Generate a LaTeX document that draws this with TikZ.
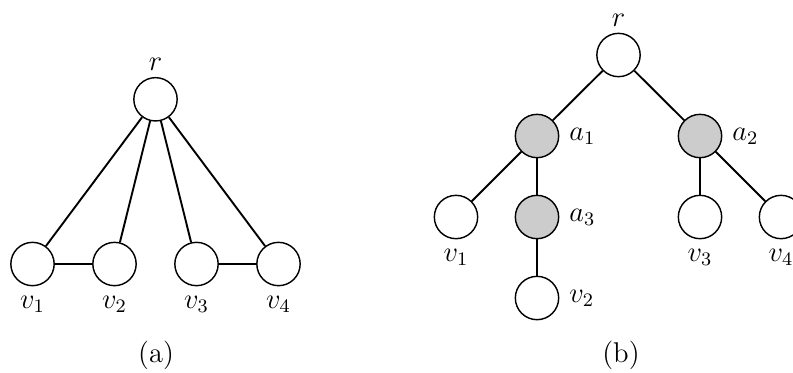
\documentclass[tikz,border=0pt]{standalone}
\begin{document}
\begin{tikzpicture}[x=0.42pt,y=-0.42pt,
  vtx/.style={circle,draw,line width=0.6pt,minimum size=18.2pt,inner sep=0pt,fill=white},
  grayvtx/.style={vtx,fill=black!20},
  edge/.style={line width=0.8pt},
  every label/.style={inner sep=4pt,font=\large},
  toplabel/.style={label={[label distance=-1.5pt]above:#1}},
  every node/.append style={font=\large}]
\useasboundingbox (0,0) rectangle (793,372);
\clip (0,0) rectangle (793,372);
% (a)
\node[vtx,toplabel=$r$] (ra) at (155.5,99.3) {};
\node[vtx,label=below:$v_1$] (av1) at (32.5,264) {};
\node[vtx,label=below:$v_2$] (av2) at (114.5,264) {};
\node[vtx,label=below:$v_3$] (av3) at (196.5,264) {};
\node[vtx,label=below:$v_4$] (av4) at (278.5,264) {};
\draw[edge] (ra) -- (av1);
\draw[edge] (ra) -- (av2);
\draw[edge] (ra) -- (av3);
\draw[edge] (ra) -- (av4);
\draw[edge] (av1) -- (av2);
\draw[edge] (av3) -- (av4);
\node (capa) at (156,355) {(a)};
% (b)
\node[vtx,toplabel=$r$] (rb) at (618.5,55) {};
\node[grayvtx,label=right:$a_1$] (a1) at (537,136) {};
\node[grayvtx,label=right:$a_2$] (a2) at (700,136) {};
\node[vtx,label=below:$v_1$] (bv1) at (456,217) {};
\node[grayvtx,label=right:$a_3$] (a3) at (537,217) {};
\node[vtx,label=below:$v_3$] (bv3) at (700,217) {};
\node[vtx,label=below:$v_4$] (bv4) at (781,217) {};
\node[vtx,label=right:$v_2$] (bv2) at (537,298) {};
\draw[edge] (rb) -- (a1);
\draw[edge] (rb) -- (a2);
\draw[edge] (a1) -- (bv1);
\draw[edge] (a1) -- (a3);
\draw[edge] (a3) -- (bv2);
\draw[edge] (a2) -- (bv3);
\draw[edge] (a2) -- (bv4);
\node (capb) at (621,355) {(b)};
\end{tikzpicture}
\end{document}
